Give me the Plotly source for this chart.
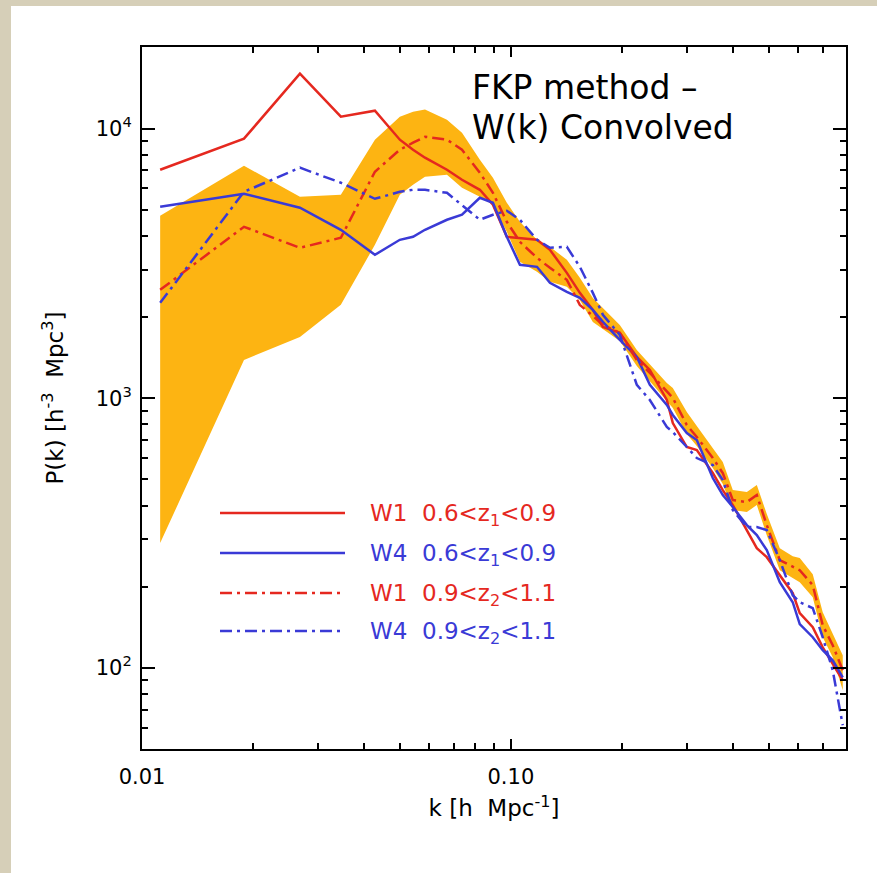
import plotly.graph_objects as go

# k values [h/Mpc]
k = [0.0112, 0.0189, 0.0268, 0.0346, 0.0428, 0.0500, 0.0543, 0.0585, 0.0671, 0.0737,
     0.0824, 0.0894, 0.0975, 0.1058, 0.1177, 0.1276, 0.1418, 0.1538, 0.1668, 0.1776,
     0.1974, 0.2195, 0.2381, 0.2647, 0.2748, 0.2999, 0.3192, 0.3527, 0.3754, 0.3996,
     0.4362, 0.4642, 0.4940, 0.5358, 0.5809, 0.6069, 0.6582, 0.7005, 0.7456, 0.7937]

p_w1_z1 = [7044, 9182, 16000, 11080, 11660, 9102, 8356, 7804, 7044, 6466,
           5934, 5222, 3972, 3938, 3871, 3553, 2919, 2460, 2128, 1840,
           1748, 1424, 1274, 985.6, 809.4, 659.4, 642.7, 528.0, 456.5, 401.7,
           324.3, 278.0, 257.4, 220.7, 189.2, 159.5, 141.5, 119.2, 104.0, 89.94]

p_w4_z1 = [5133, 5734, 5089, 4217, 3405, 3871, 3972, 4217, 4593, 4794,
           5542, 5312, 3972, 3126, 3073, 2680, 2481, 2357, 2128, 1920,
           1646, 1424, 1121, 944.3, 866.9, 743.1, 700.0, 505.9, 437.5, 394.9,
           338.5, 310.7, 273.3, 207.9, 175.2, 145.2, 129.9, 116.3, 106.7, 92.27]

p_w1_z2 = [2524, 4326, 3615, 3938, 6924, 8356, 8872, 9338, 9102, 8356,
           6865, 5783, 4515, 3805, 3319, 3047, 2750, 2221, 2021, 1871,
           1748, 1388, 1242, 1055, 1003, 795.7, 718.2, 600.1, 528.0, 419.2,
           412.1, 437.5, 338.5, 250.9, 236.4, 230.3, 202.6, 143.9, 121.3, 97.97]

p_w4_z2 = [2259, 5833, 7166, 6302, 5495, 5833, 5934, 5934, 5783, 5222,
           4593, 4794, 4960, 4593, 3871, 3615, 3646, 3073, 2460, 2039,
           1718, 1121, 985.6, 782.2, 749.5, 659.4, 600.1, 565.4, 497.4, 384.9,
           332.8, 332.8, 324.3, 250.9, 186.0, 175.2, 166.5, 129.9, 97.97, 61.22]

band_upper = [4753, 7289, 5589, 5685, 9102, 11080, 11560, 11770, 10800, 9664,
              7672, 6577, 5312, 4515, 3871, 3646, 3263, 2797, 2357, 2164,
              1871, 1511, 1341, 1140, 1092, 889.5, 788.9, 653.8, 580.0, 456.5,
              448.8, 476.5, 372.0, 278.0, 259.6, 255.3, 222.6, 160.9, 134.5, 111.4]

band_lower = [290.2, 1388, 1689, 2221, 3709, 5685, 6196, 6634, 6749, 6036,
              5589, 5222, 4145, 3207, 2944, 2703, 2591, 2317, 1920, 1808,
              1632, 1318, 1150, 977.2, 920.4, 736.8, 665.0, 551.0, 480.6, 384.9,
              378.4, 401.7, 310.7, 230.3, 215.1, 207.9, 182.9, 129.9, 109.5, 82.58]

legend_labels = ["W1\u00a0\u00a00.6&lt;z<sub>1</sub>&lt;0.9",
                 "W4\u00a0\u00a00.6&lt;z<sub>1</sub>&lt;0.9",
                 "W1\u00a0\u00a00.9&lt;z<sub>2</sub>&lt;1.1",
                 "W4\u00a0\u00a00.9&lt;z<sub>2</sub>&lt;1.1"]

note_lines = ["FKP method \u2013", "W(k) Convolved"]

x_tickvals = [0.01, 0.1]
x_ticktext = ["0.01", "0.10"]
x_minor = [0.02, 0.03, 0.04, 0.05, 0.06, 0.07, 0.08, 0.09, 0.2, 0.3, 0.4, 0.5, 0.6, 0.7]
y_tickvals = [100, 1000, 10000]
y_ticktext = ["10<sup>2</sup>", "10<sup>3</sup>", "10<sup>4</sup>"]
y_minor = [60, 70, 80, 90, 200, 300, 400, 500, 600, 700, 800, 900,
           2000, 3000, 4000, 5000, 6000, 7000, 8000, 9000, 20000]

RED = "#e5281f"
BLUE = "#3a3ad6"
ORANGE = "#fdb412"
DASHDOT = "12px,5px,3px,5px"
FONT = "DejaVu Sans"

fig = go.Figure()

fig.add_trace(go.Scatter(
    x=k + k[::-1], y=band_upper + band_lower[::-1],
    fill="toself", fillcolor=ORANGE, line=dict(width=0), mode="lines",
    hoverinfo="skip", showlegend=False))

series = [
    (p_w1_z1, RED, "solid"),
    (p_w4_z1, BLUE, "solid"),
    (p_w1_z2, RED, DASHDOT),
    (p_w4_z2, BLUE, DASHDOT),
]
for i, (p, c, d) in enumerate(series):
    fig.add_trace(go.Scatter(x=k, y=p, mode="lines", name=legend_labels[i],
                             line=dict(color=c, width=2.5, dash=d), showlegend=False))

# plot area in pixels: x 142-846, y 47-749
W, H = 877, 873
L, R, T, B = 142, 31, 47, 124
pw, ph = W - L - R, H - T - B

def px(x):
    return (x - L) / pw

def py(y):
    return (H - B - y) / ph

shapes = [dict(type="rect", xref="paper", yref="paper",
               x0=px(11), x1=px(W + 5), y0=py(H + 5), y1=py(6),
               fillcolor="white", line=dict(width=0), layer="below")]
annotations = []
rows = [513, 553, 593, 631]
for i, (p, c, d) in enumerate(series):
    shapes.append(dict(type="line", xref="paper", yref="paper",
                       x0=px(220), x1=px(345), y0=py(rows[i]), y1=py(rows[i]),
                       line=dict(color=c, width=2.5, dash=d)))
    annotations.append(dict(xref="paper", yref="paper", x=px(368), y=py(rows[i] + 2),
                            xanchor="left", yanchor="middle", showarrow=False,
                            text=legend_labels[i], font=dict(family=FONT, size=23, color=c)))

for j, yy in enumerate([88, 127]):
    annotations.append(dict(xref="paper", yref="paper", x=px(470), y=py(yy),
                            xanchor="left", yanchor="middle", align="left", showarrow=False,
                            text=note_lines[j],
                            font=dict(family=FONT, size=33, color="black")))

axis_common = dict(type="log", showline=True, linewidth=2, linecolor="black",
                   mirror="ticks", ticks="inside", tickcolor="black", tickwidth=2,
                   showgrid=False, zeroline=False,
                   tickfont=dict(family=FONT, size=21, color="black"))

fig.update_layout(
    width=W, height=H,
    margin=dict(l=L, r=R, t=T, b=B, pad=0),
    paper_bgcolor="#d6cfb8", plot_bgcolor="white",
    xaxis=dict(axis_common, range=[-2, -0.0915], tickvals=x_tickvals, ticktext=x_ticktext,
               ticklen=10, ticklabelstandoff=8,
               minor=dict(tickvals=x_minor, ticks="inside", ticklen=6, tickcolor="black", tickwidth=1.5),
               title=dict(text="k [h\u00a0\u00a0Mpc<sup>-1</sup>]", standoff=12,
                          font=dict(family=FONT, size=23, color="black"))),
    yaxis=dict(axis_common, range=[1.699, 4.303], tickvals=y_tickvals, ticktext=y_ticktext,
               ticklen=13, ticklabelstandoff=4,
               minor=dict(tickvals=y_minor, ticks="inside", ticklen=6, tickcolor="black", tickwidth=1.5),
               title=dict(text="P(k) [h<sup>-3</sup>\u00a0\u00a0Mpc<sup>3</sup>]", standoff=26,
                          font=dict(family=FONT, size=23, color="black"))),
    shapes=shapes, annotations=annotations, showlegend=False,
)

fig.write_html("out.html")
